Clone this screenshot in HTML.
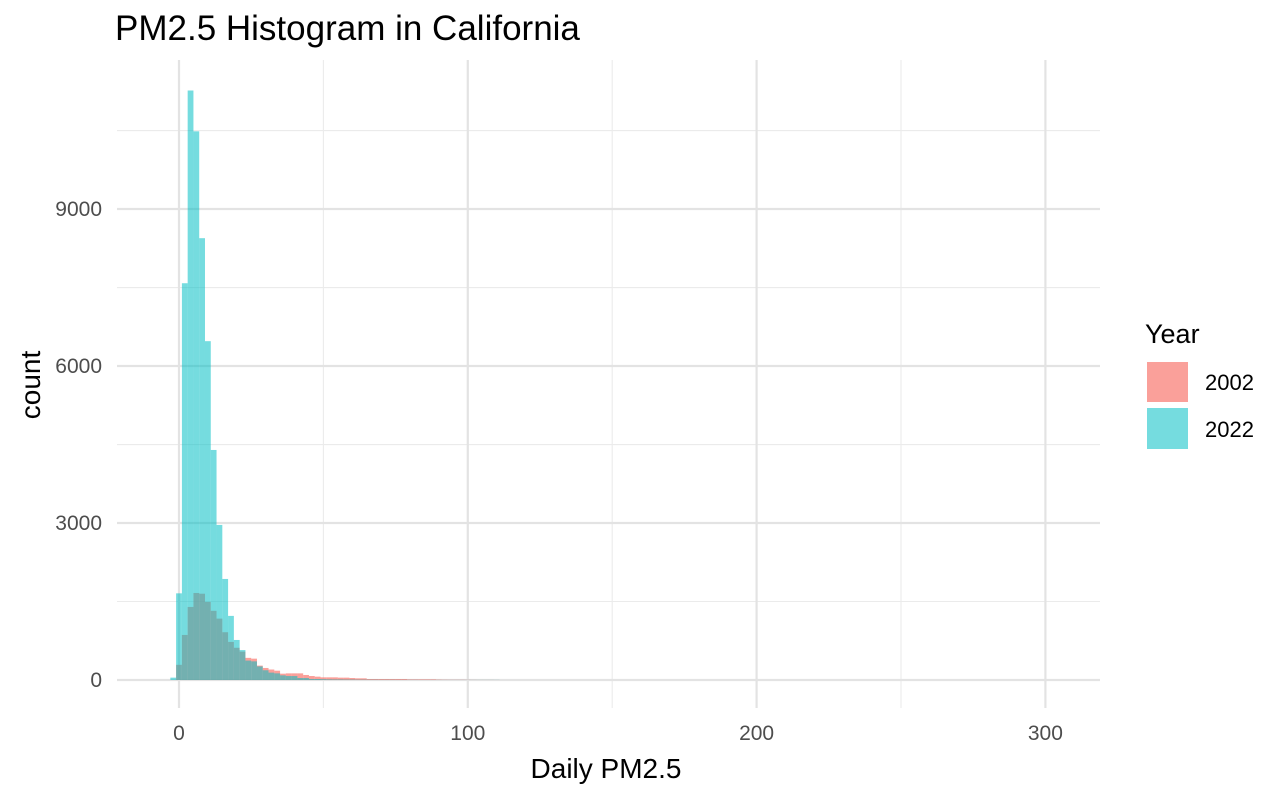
<!DOCTYPE html>
<html><head><meta charset="utf-8"><style>
body{margin:0;background:#fff;font-family:"Liberation Sans",Arial,sans-serif}
svg text{font-family:"Liberation Sans",Arial,sans-serif}
</style></head><body>
<svg id="chart" width="1286" height="794" xmlns="http://www.w3.org/2000/svg">
<text x="115" y="40" font-size="35" fill="#000">PM2.5 Histogram in California</text>
<g id="grid"></g>
<g id="bars"></g>
<g id="axes"></g>
<text x="606" y="778" font-size="28" text-anchor="middle" fill="#000">Daily PM2.5</text>
<text transform="translate(40,385) rotate(-90)" font-size="28" text-anchor="middle" fill="#000">count</text>
<g>
<text x="1145" y="343" font-size="27" fill="#000">Year</text>
<rect x="1147" y="362" width="41" height="40" fill="#F8766D" fill-opacity="0.69"/>
<text x="1205" y="390" font-size="22" fill="#000">2002</text>
<rect x="1147" y="408" width="41" height="41" fill="#00BFC4" fill-opacity="0.54"/>
<text x="1205" y="437" font-size="22" fill="#000">2022</text>
</g>
</svg>
<script>
const binCenters = [-2,0,2,4,6,8,10,12,14,16,18,20,22,24,26,28,30,32,34,36,38,40,42,44,46,48,50,52,54,56,58,60,62,64,66,68,70,72,74,76,78,80,82,84,86,88,90,92,94,96,98,100,102,104,106,108,110];
const counts2002 = [0,290,861,1396,1663,1649,1493,1322,1173,913,728,616,542,423,408,275,230,200,178,121,127,127,127,96,76,64,51,51,51,45,45,38,32,32,19,19,19,19,19,19,19,13,13,13,13,13,8,6,5,5,5,4,3,2,2,2,1];
const counts2022 = [45,1656,7582,11265,10485,8443,6475,4396,2963,1931,1225,765,572,371,356,260,186,141,127,89,76,76,38,38,19,19,15,12,10,10,8,8,6,6,5,5,4,4,4,3,3,3,3,2,2,2,2,2,2,2,2,2,2,2,2,2,2];
const xTicks = [0,100,200,300];
const xMinor = [50,150,250];
const yTicks = [0,3000,6000,9000];
const yMinor = [1500,4500,7500,10500];
const binWidth = 2;

const NS="http://www.w3.org/2000/svg";
const X0=117, X1=1100, Y0=60, Y1=708;
function xs(v){return 179 + v*2.888;}
function ys(v){return 680 - v*0.05233;}
function mk(tag,attrs,parent){const e=document.createElementNS(NS,tag);for(const k in attrs)e.setAttribute(k,attrs[k]);parent.appendChild(e);return e;}
const grid=document.getElementById('grid'), bars=document.getElementById('bars'), axes=document.getElementById('axes');
yMinor.forEach(v=>{const l=mk('line',{x1:X0,x2:X1,y1:ys(v),y2:ys(v),stroke:'#ebebeb','stroke-width':1.1},grid);

});
xMinor.forEach(v=>{const l=mk('line',{x1:xs(v),x2:xs(v),y1:Y0,y2:Y1,stroke:'#ebebeb','stroke-width':1.1},grid);

});
yTicks.forEach(v=>{const l=mk('line',{x1:X0,x2:X1,y1:ys(v),y2:ys(v),stroke:'#e3e3e3','stroke-width':2.2},grid);


const t=mk('text',{x:102,y:ys(v)+7,'font-size':21,'text-anchor':'end',fill:'#4d4d4d'},axes);t.textContent=v;

});
xTicks.forEach(v=>{const l=mk('line',{x1:xs(v),x2:xs(v),y1:Y0,y2:Y1,stroke:'#e3e3e3','stroke-width':2.2},grid);


const t=mk('text',{x:xs(v),y:740,'font-size':21,'text-anchor':'middle',fill:'#4d4d4d'},axes);t.textContent=v;

});
function drawSeries(vals,color,op,name){
  binCenters.forEach((c,i)=>{const v=vals[i]; if(!v) return;
    const x=xs(c-binWidth/2), w=xs(c+binWidth/2)-x;
    const r=mk('rect',{x:x,y:ys(v),width:w,height:ys(0)-ys(v),fill:color,'fill-opacity':op},bars);
    
    });
}
drawSeries(counts2002,'#F8766D',0.69,'bar-2002');
drawSeries(counts2022,'#00BFC4',0.54,'bar-2022');
</script>
</body></html>
